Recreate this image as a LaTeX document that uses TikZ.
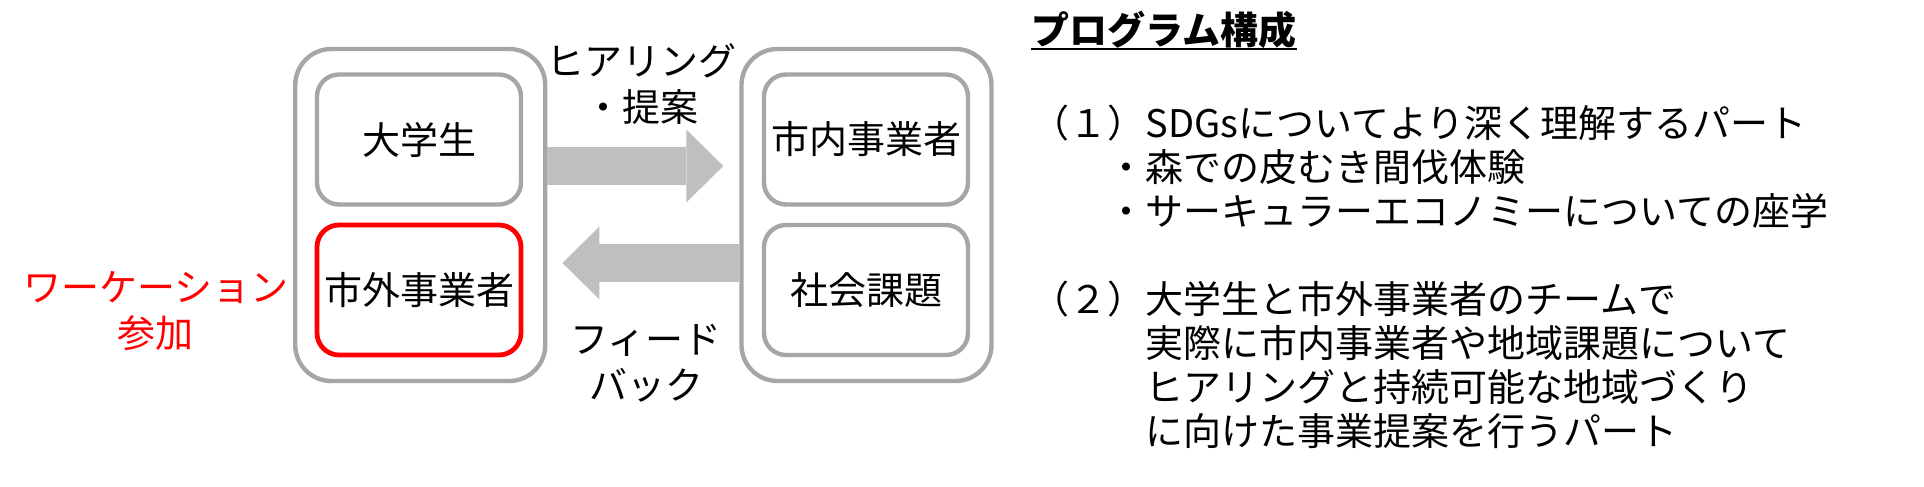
\documentclass[tikz,border=0pt]{standalone}
\usepackage{fontspec}
\setmainfont{Noto Sans CJK JP}
\usetikzlibrary{arrows.meta}
\definecolor{boxgray}{HTML}{A6A6A6}
\definecolor{arrowgray}{HTML}{BFBFBF}
\definecolor{mred}{HTML}{FF0000}
\begin{document}
\begin{tikzpicture}[x=0.5pt,y=-0.5pt,
  every node/.style={font=\fontsize{19}{22}\selectfont},
  outerbox/.style={draw=boxgray, line width=2.2pt, rounded corners=18pt, minimum width=125pt, minimum height=166pt, inner sep=0pt},
  innerbox/.style={draw=boxgray, line width=2.2pt, rounded corners=11pt, minimum width=102pt, minimum height=65pt, inner sep=0pt, fill=white},
  redbox/.style={innerbox, draw=mred, line width=2.4pt},
  blockarrow/.style={draw=arrowgray, line width=18.75pt, -{Triangle[width=36.5pt,length=18.5pt,line width=0pt]}},
  lbl/.style={align=center, inner sep=0pt, font=\fontsize{19}{23}\selectfont},
  txt/.style={anchor=base west, inner sep=0pt},
]
\useasboundingbox (0,0) rectangle (1924,487);

% outer frames
\node[outerbox] (outL) at (420.25,215) {};
\node[outerbox] (outR) at (866.5,215) {};

% inner boxes
\node[innerbox] (daigaku) at (419,139.5) {大学生};
\node[redbox]   (shigai)  at (419,290)   {市外事業者};
\node[innerbox] (shinai)  at (866,139.5) {市内事業者};
\node[innerbox] (kadai)   at (866,290)   {社会課題};

% block arrows
\draw[blockarrow] ([yshift=24.5pt]outL.east) -- ([yshift=24.5pt,xshift=-8pt]outR.west);
\draw[blockarrow] ([yshift=-24pt]outR.west) -- ([yshift=-24pt,xshift=7.5pt]outL.east);

% labels
\node[lbl] (hearing) at (641,84) {ヒアリング\\・提案};
\node[lbl] (feedback) at (646,363) {フィード\\バック};
\node[lbl, text=mred] (workation) at (156,311.5) {ワーケーション\\参加};

% program text
\node[txt, font=\bfseries\fontsize{19}{22}\selectfont] (title) at (1031,44.4) {プログラム構成};
\draw[line width=1pt] ([yshift=-2.3pt]title.base west) -- ([yshift=-2.3pt]title.base east);

\node[txt] (l1) at (1031,137.4) {（１）SDGsについてより深く理解するパート};
\node[txt] (l2) at (1107,181.4) {・森での皮むき間伐体験};
\node[txt] (l3) at (1107,225.4) {・サーキュラーエコノミーについての座学};
\node[txt] (l4) at (1031,313.4) {（２）大学生と市外事業者のチームで};
\node[txt] (l5) at (1145,357.4) {実際に市内事業者や地域課題について};
\node[txt] (l6) at (1145,401.4) {ヒアリングと持続可能な地域づくり};
\node[txt] (l7) at (1145,445.4) {に向けた事業提案を行うパート};
\end{tikzpicture}
\end{document}
